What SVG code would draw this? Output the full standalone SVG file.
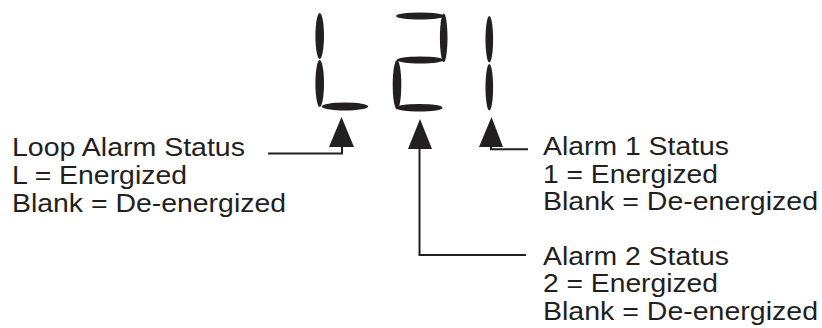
<svg xmlns="http://www.w3.org/2000/svg" width="822" height="328" viewBox="0 0 822 328">
<style>
.seg{fill:#231f20}
.lbl{font-family:"Liberation Sans",Arial,Helvetica,sans-serif;font-size:26px;fill:#231f20}
.ln{fill:none;stroke:#231f20;stroke-width:2}
.arr{fill:#231f20}
</style>
<rect width="822" height="328" fill="#ffffff"/>
<g id="display">
  <g id="digit-L">
    <ellipse class="seg" cx="319.7" cy="36" rx="4.3" ry="23"/>
    <ellipse class="seg" cx="319.7" cy="83.5" rx="4.3" ry="23.5"/>
    <ellipse class="seg" cx="345" cy="106.5" rx="23.3" ry="4"/>
  </g>
  <g id="digit-2">
    <ellipse class="seg" cx="420" cy="16" rx="24" ry="3.6"/>
    <ellipse class="seg" cx="443.7" cy="37.7" rx="3.8" ry="24.3"/>
    <ellipse class="seg" cx="420.3" cy="60" rx="23.7" ry="3.5"/>
    <ellipse class="seg" cx="397" cy="84.7" rx="4.3" ry="24.7"/>
    <ellipse class="seg" cx="419.3" cy="107.7" rx="23.3" ry="3.8"/>
  </g>
  <g id="digit-1">
    <ellipse class="seg" cx="489.3" cy="39.3" rx="3.8" ry="23.3"/>
    <ellipse class="seg" cx="489.3" cy="87.3" rx="3.8" ry="23.3"/>
  </g>
</g>
<g id="connectors">
  <polyline class="ln" points="268,153.5 342,153.5 342,146"/>
  <polygon class="arr" points="341.5,117 354,147 329,147"/>
  <polyline class="ln" points="419.5,148 419.5,255 526,255"/>
  <polygon class="arr" points="420,119 432,149 408,149"/>
  <polyline class="ln" points="491,146 491,149.3 528,149.3"/>
  <polygon class="arr" points="491.5,117 503,147 479,147"/>
</g>
<g id="loop-label">
  <text class="lbl" x="12" y="156" textLength="233" lengthAdjust="spacingAndGlyphs">Loop Alarm Status</text>
  <text class="lbl" x="12" y="184" textLength="175" lengthAdjust="spacingAndGlyphs">L = Energized</text>
  <text class="lbl" x="12" y="212" textLength="274" lengthAdjust="spacingAndGlyphs">Blank = De-energized</text>
</g>
<g id="alarm1-label">
  <text class="lbl" x="543" y="155" textLength="186" lengthAdjust="spacingAndGlyphs">Alarm 1 Status</text>
  <text class="lbl" x="543" y="182.5" textLength="175" lengthAdjust="spacingAndGlyphs">1 = Energized</text>
  <text class="lbl" x="543" y="210" textLength="275" lengthAdjust="spacingAndGlyphs">Blank = De-energized</text>
</g>
<g id="alarm2-label">
  <text class="lbl" x="543" y="265" textLength="186" lengthAdjust="spacingAndGlyphs">Alarm 2 Status</text>
  <text class="lbl" x="543" y="292" textLength="175" lengthAdjust="spacingAndGlyphs">2 = Energized</text>
  <text class="lbl" x="543" y="319.5" textLength="275" lengthAdjust="spacingAndGlyphs">Blank = De-energized</text>
</g>
</svg>
